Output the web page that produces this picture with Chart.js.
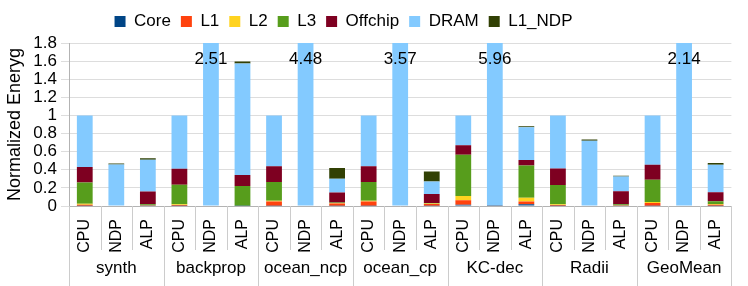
<!DOCTYPE html>
<html><head><meta charset="utf-8">
<script src="https://cdn.jsdelivr.net/npm/chart.js@4.4.0/dist/chart.umd.min.js"></script>
<style>html,body{margin:0;padding:0;background:#fff}#wrap{width:748px;height:286px}</style>
</head><body><div id="wrap"><canvas id="c" width="748" height="286"></canvas></div>
<script>
const groups = ['synth', 'backprop', 'ocean_ncp', 'ocean_cp', 'KC-dec', 'Radii', 'GeoMean'];
const configs = ['CPU', 'NDP', 'ALP'];
const barLabels = groups.flatMap(() => configs);
const yTicksMax = 1.8;
const yTickStep = 0.2;

// values per bar: [CPU, NDP, ALP] x groups
const core    = [0.003,0,0.002, 0.002,0,0.002, 0.003,0,0.003, 0.003,0,0.003, 0.015,0.01,0.02, 0.002,0,0.002, 0.004,0,0.004];
const l1      = [0.012,0,0.003, 0.010,0,0,     0.046,0,0.025, 0.046,0,0.020, 0.048,0,0.030,    0.008,0,0.003, 0.028,0,0.010];
const l2      = [0.010,0,0.004, 0.008,0,0,     0.010,0,0.005, 0.010,0,0.005, 0.047,0,0.040,    0.010,0,0.006, 0.012,0,0.008];
const l3      = [0.234,0,0.011, 0.216,0,0.218, 0.207,0,0.005, 0.207,0,0.004, 0.455,0,0.357,    0.213,0,0.009, 0.245,0,0.030];
const offchip = [0.171,0,0.139, 0.174,0,0.122, 0.174,0,0.110, 0.174,0,0.101, 0.105,0,0.060,    0.181,0,0.143, 0.166,0,0.100];
const dram    = [0.570,0.458,0.351, 0.590,2.51,1.231, 0.560,4.48,0.152, 0.560,3.57,0.137, 0.330,5.95,0.363, 0.586,0.72,0.163, 0.545,2.14,0.303];
const l1ndp   = [0,0.012,0.017, 0,0,0.022, 0,0,0.120, 0,0,0.110, 0,0,0.010, 0,0.015,0.007, 0,0,0.019];

const seriesNames = ['Core', 'L1', 'L2', 'L3', 'Offchip', 'DRAM', 'L1_NDP'];
const seriesData = [core, l1, l2, l3, offchip, dram, l1ndp];
const seriesColors = ['#004586', '#ff420e', '#ffd320', '#579d1c', '#7e0021', '#83caff', '#314004'];

const FONT = '"Liberation Sans", Arial, sans-serif';

const layoutTweak = {
  id: 'layoutTweak',
  afterLayout(chart) {
    const lg = chart.legend;
    if (!lg) return;
    lg.left -= 27; lg.right -= 27; lg.top -= 3; lg.bottom -= 3;
  }
};

const overflowLabels = {
  id: 'overflowLabels',
  afterDatasetsDraw(chart) {
    const {ctx, chartArea, scales: {x, y}} = chart;
    ctx.save();
    ctx.font = '17px ' + FONT;
    ctx.fillStyle = '#000';
    ctx.textAlign = 'center';
    ctx.textBaseline = 'middle';
    barLabels.forEach((_, i) => {
      const total = chart.data.datasets.reduce((s, d) => s + d.data[i], 0);
      if (total > y.max) ctx.fillText(total.toFixed(2), x.getPixelForValue(i), chartArea.top + 16);
    });
    ctx.restore();
  }
};

const axisDecor = {
  id: 'axisDecor',
  afterDraw(chart) {
    const {ctx, chartArea, scales: {x}} = chart;
    const n = barLabels.length;
    const step = x.getPixelForValue(1) - x.getPixelForValue(0);
    const start = x.getPixelForValue(0) - step / 2;
    ctx.save();
    ctx.strokeStyle = '#cccccc';
    ctx.lineWidth = 1;
    for (let i = 0; i <= n; i++) {
      const px = Math.round(start + i * step) + 0.5;
      const yEnd = (i % 3 === 0) ? chart.height : 250;
      ctx.beginPath();
      ctx.moveTo(px, chartArea.bottom);
      ctx.lineTo(px, yEnd);
      ctx.stroke();
    }
    ctx.font = '17px ' + FONT;
    ctx.fillStyle = '#000';
    ctx.textAlign = 'center';
    ctx.textBaseline = 'middle';
    groups.forEach((g, gi) => {
      ctx.fillText(g, x.getPixelForValue(gi * 3 + 1), 268);
    });
    ctx.restore();
  }
};

new Chart(document.getElementById('c'), {
  type: 'bar',
  data: {
    labels: barLabels,
    datasets: seriesNames.map((name, i) => ({
      label: name,
      data: seriesData[i],
      backgroundColor: seriesColors[i],
      borderWidth: 0,
      categoryPercentage: 1.0,
      barPercentage: 0.5,
      clip: 0
    }))
  },
  options: {
    responsive: false,
    animation: false,
    devicePixelRatio: 1,
    layout: { padding: { top: 6, right: 7, left: 0, bottom: 0 } },
    plugins: {
      legend: {
        position: 'top',
        labels: { boxWidth: 11, boxHeight: 11, padding: 10, color: '#000', font: { family: FONT, size: 17 } }
      },
      tooltip: { enabled: false }
    },
    scales: {
      x: {
        stacked: true,
        afterFit(s) { s.height = 80; },
        grid: { display: false, drawOnChartArea: false, drawTicks: false },
        border: { display: true, color: '#b3b3b3' },
        ticks: { autoSkip: false, maxRotation: 90, minRotation: 90, padding: 13, color: '#000', font: { family: FONT, size: 16 } }
      },
      y: {
        stacked: true,
        min: 0,
        max: yTicksMax,
        afterFit(s) { s.width = 69; },
        grid: { color: '#dddddd', tickLength: 8 },
        border: { display: true, color: '#b3b3b3' },
        ticks: {
          stepSize: yTickStep, autoSkip: false, padding: 4, color: '#000', font: { family: FONT, size: 17 },
          callback: (v) => String(Number(Number(v).toFixed(1)))
        },
        title: { display: true, text: 'Normalized Eneryg', color: '#000', font: { family: FONT, size: 18 }, padding: { top: 4, bottom: 4 } }
      }
    }
  },
  plugins: [layoutTweak, overflowLabels, axisDecor]
});
</script>
</body></html>
